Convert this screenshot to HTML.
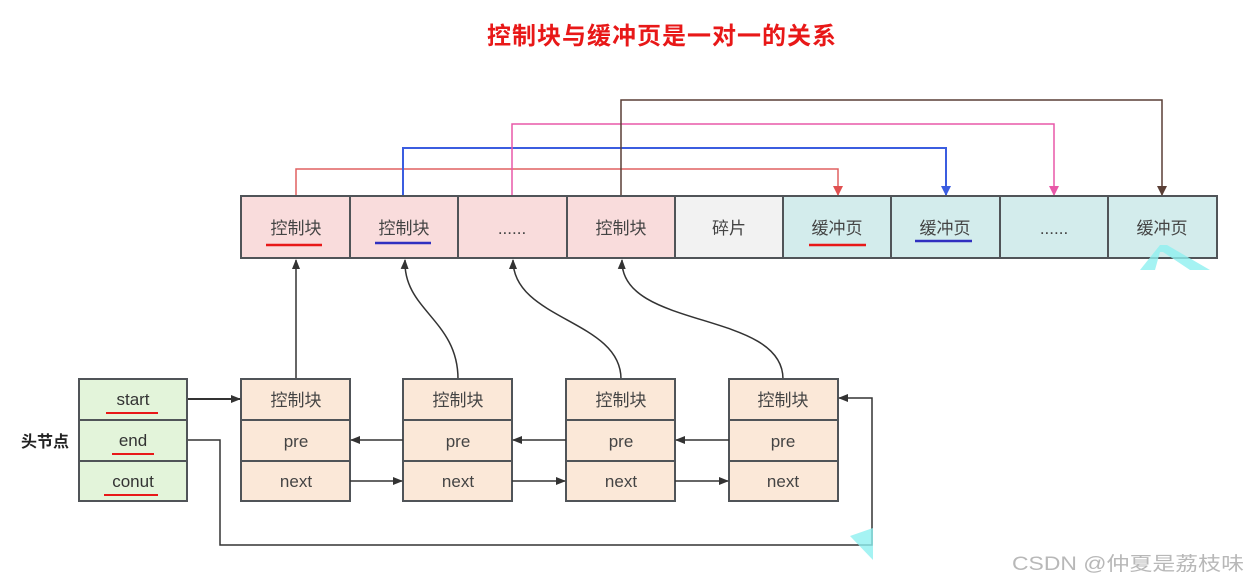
<!DOCTYPE html>
<html><head><meta charset="utf-8"><style>
html,body{margin:0;padding:0;background:#fff;}
svg{display:block;}
text{font-family:"Liberation Sans","Noto Sans CJK SC",sans-serif;}
</style></head><body>
<svg width="1248" height="581" viewBox="0 0 1248 581" xmlns="http://www.w3.org/2000/svg">
<defs>
<marker id="ak" markerWidth="10" markerHeight="10" refX="9" refY="5" orient="auto" markerUnits="userSpaceOnUse"><path d="M0,1 L10,5 L0,9 Z" fill="#333"/></marker>
<marker id="ar" markerWidth="10" markerHeight="12" refX="9" refY="6" orient="auto" markerUnits="userSpaceOnUse"><path d="M0,1 L10,6 L0,11 Z" fill="#e05050"/></marker>
<marker id="ab" markerWidth="10" markerHeight="12" refX="9" refY="6" orient="auto" markerUnits="userSpaceOnUse"><path d="M0,1 L10,6 L0,11 Z" fill="#3b5de0"/></marker>
<marker id="ap" markerWidth="10" markerHeight="12" refX="9" refY="6" orient="auto" markerUnits="userSpaceOnUse"><path d="M0,1 L10,6 L0,11 Z" fill="#e858a8"/></marker>
<marker id="an" markerWidth="10" markerHeight="12" refX="9" refY="6" orient="auto" markerUnits="userSpaceOnUse"><path d="M0,1 L10,6 L0,11 Z" fill="#5a3f36"/></marker>
</defs>
<text x="662" y="44" text-anchor="middle" font-size="24" font-weight="bold" fill="#e81818" letter-spacing="1">控制块与缓冲页是一对一的关系</text>

<polyline points="296,196 296,169 838,169 838,195" fill="none" stroke="#e06060" stroke-width="1.5" marker-end="url(#ar)"/>
<polyline points="403,196 403,148 946,148 946,195" fill="none" stroke="#3b5de0" stroke-width="2" marker-end="url(#ab)"/>
<polyline points="512,196 512,124 1054,124 1054,195" fill="none" stroke="#e858a8" stroke-width="1.5" marker-end="url(#ap)"/>
<polyline points="621,196 621,100 1162,100 1162,195" fill="none" stroke="#5a3f36" stroke-width="1.5" marker-end="url(#an)"/>

<g stroke="#505458" stroke-width="2">
<rect x="241" y="196" width="109" height="62" fill="#f9dcdc"/>
<rect x="350" y="196" width="108" height="62" fill="#f9dcdc"/>
<rect x="458" y="196" width="109" height="62" fill="#f9dcdc"/>
<rect x="567" y="196" width="108" height="62" fill="#f9dcdc"/>
<rect x="675" y="196" width="108" height="62" fill="#f2f2f2"/>
<rect x="783" y="196" width="108" height="62" fill="#d3ecec"/>
<rect x="891" y="196" width="109" height="62" fill="#d3ecec"/>
<rect x="1000" y="196" width="108" height="62" fill="#d3ecec"/>
<rect x="1108" y="196" width="109" height="62" fill="#d3ecec"/>
</g>
<g font-size="17" fill="#444" text-anchor="middle">
<text x="296" y="234">控制块</text>
<text x="404" y="234">控制块</text>
<text x="512" y="234">......</text>
<text x="621" y="234">控制块</text>
<text x="729" y="234">碎片</text>
<text x="837" y="234">缓冲页</text>
<text x="945" y="234">缓冲页</text>
<text x="1054" y="234">......</text>
<text x="1162" y="234">缓冲页</text>
</g>
<line x1="266" y1="245" x2="322" y2="245" stroke="#e81818" stroke-width="2.5"/>
<line x1="375" y1="243" x2="431" y2="243" stroke="#3030c0" stroke-width="2.5"/>
<line x1="809" y1="245" x2="866" y2="245" stroke="#e81818" stroke-width="2.5"/>
<line x1="915" y1="241" x2="972" y2="241" stroke="#3030c0" stroke-width="2.5"/>
<polygon points="1140,270 1160,245 1167,245 1210,270 1190,270 1163,252 1160,252 1155,270" fill="#8ff0f0" opacity="0.8"/>

<g fill="none" stroke="#333" stroke-width="1.5" marker-end="url(#ak)">
<line x1="296" y1="379" x2="296" y2="260"/>
<path d="M458,379 C458,320 403,310 405,260"/>
<path d="M621,379 C621,320 513,320 513,260"/>
<path d="M783,379 C783,310 620,330 622,260"/>
</g>

<g stroke="#505458" stroke-width="2" fill="#e3f4da">
<rect x="79" y="379" width="108" height="41"/>
<rect x="79" y="420" width="108" height="41"/>
<rect x="79" y="461" width="108" height="40"/>
</g>
<g font-size="17" fill="#333" text-anchor="middle">
<text x="133" y="405">start</text>
<text x="133" y="446">end</text>
<text x="133" y="487">conut</text>
</g>
<line x1="106" y1="413" x2="158" y2="413" stroke="#e81818" stroke-width="2"/>
<line x1="112" y1="454" x2="154" y2="454" stroke="#e81818" stroke-width="2"/>
<line x1="104" y1="495" x2="158" y2="495" stroke="#e81818" stroke-width="2"/>
<text x="45" y="447" font-size="16" font-weight="bold" fill="#222" text-anchor="middle">头节点</text>

<g stroke="#505458" stroke-width="2" fill="#fbe8d8">
<rect x="241" y="379" width="109" height="41"/><rect x="241" y="420" width="109" height="41"/><rect x="241" y="461" width="109" height="40"/>
<rect x="403" y="379" width="109" height="41"/><rect x="403" y="420" width="109" height="41"/><rect x="403" y="461" width="109" height="40"/>
<rect x="566" y="379" width="109" height="41"/><rect x="566" y="420" width="109" height="41"/><rect x="566" y="461" width="109" height="40"/>
<rect x="729" y="379" width="109" height="41"/><rect x="729" y="420" width="109" height="41"/><rect x="729" y="461" width="109" height="40"/>
</g>
<g font-size="17" fill="#444" text-anchor="middle">
<text x="296" y="406">控制块</text><text x="296" y="447">pre</text><text x="296" y="487">next</text>
<text x="458" y="406">控制块</text><text x="458" y="447">pre</text><text x="458" y="487">next</text>
<text x="621" y="406">控制块</text><text x="621" y="447">pre</text><text x="621" y="487">next</text>
<text x="783" y="406">控制块</text><text x="783" y="447">pre</text><text x="783" y="487">next</text>
</g>

<g stroke="#333" stroke-width="1.5" fill="none" marker-end="url(#ak)">
<line x1="188" y1="399" x2="240" y2="399" stroke-width="2"/>
<line x1="403" y1="440" x2="351" y2="440"/>
<line x1="566" y1="440" x2="513" y2="440"/>
<line x1="729" y1="440" x2="676" y2="440"/>
<line x1="350" y1="481" x2="402" y2="481"/>
<line x1="512" y1="481" x2="565" y2="481"/>
<line x1="675" y1="481" x2="728" y2="481"/>
<polyline points="188,440 220,440 220,545 872,545 872,398 839,398"/>
</g>
<polygon points="850,536 873,528 873,560" fill="#8ff0f0" opacity="0.8"/>

<text x="1012" y="570" font-size="19" fill="#b8b8b8" textLength="232" lengthAdjust="spacingAndGlyphs">CSDN @仲夏是荔枝味</text>
</svg>
</body></html>
